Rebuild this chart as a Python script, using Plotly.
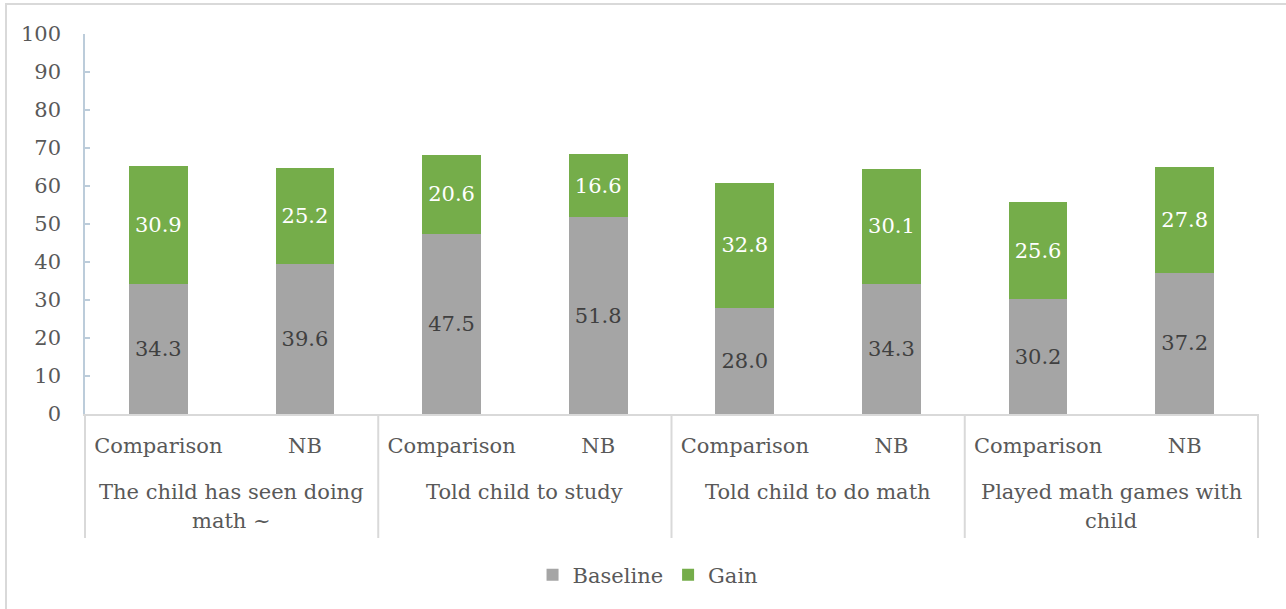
import plotly.graph_objects as go

# Survey items and study arms
groups = [
    "The child has seen doing<br>math ~",
    "Told child to study",
    "Told child to do math",
    "Played math games with<br>child",
]
arms = ["Comparison", "NB"]

# Percent of parents reporting each behaviour
baseline = [34.3, 39.6, 47.5, 51.8, 28.0, 34.3, 30.2, 37.2]
gain = [30.9, 25.2, 20.6, 16.6, 32.8, 30.1, 25.6, 27.8]

y_ticks = list(range(0, 101, 10))

FONT = "DejaVu Serif"
FS = 21
TXT = "#595959"
GRID = "#D9D9D9"

n_arms = len(arms)
n_bars = len(groups) * n_arms
xpos = list(range(n_bars))
tick_text = arms * len(groups)

fig = go.Figure()
fig.add_trace(go.Bar(
    x=xpos, y=baseline, name="Baseline",
    marker=dict(color="#A5A5A5", line=dict(width=0)),
    width=0.4,
    text=[f"{v:.1f}" for v in baseline],
    textposition="inside", insidetextanchor="middle", textangle=0,
    textfont=dict(family=FONT, size=FS, color="#404040"),
))
fig.add_trace(go.Bar(
    x=xpos, y=gain, name="Gain",
    marker=dict(color="#75AD4A", line=dict(width=0)),
    width=0.4,
    text=[f"{v:.1f}" for v in gain],
    textposition="inside", insidetextanchor="middle", textangle=0,
    textfont=dict(family=FONT, size=FS, color="white"),
))

# plot-area geometry (pixels) used to convert positions below the axis
TOP, BOTTOM, LEFT, RIGHT = 34, 414, 85, 1258
H = BOTTOM - TOP
W = RIGHT - LEFT


def py(pix):
    return (BOTTOM - pix) / H


def px(pix):
    return (pix - LEFT) / W


shapes = []
# group dividers beneath the category axis
for g in range(len(groups) + 1):
    xd = g * n_arms / n_bars
    shapes.append(dict(type="line", xref="x domain", yref="paper",
                       x0=xd, x1=xd, y0=0, y1=py(538),
                       line=dict(color=GRID, width=2)))
# outer chart frame
shapes.append(dict(type="rect", xref="paper", yref="paper",
                   x0=px(6), x1=px(1300), y0=py(4), y1=py(640),
                   line=dict(color=GRID, width=2), fillcolor="rgba(0,0,0,0)",
                   layer="below"))

# group labels, one annotation per text line for tight line spacing
annotations = []
LINE_GAP = 29
for g, name in enumerate(groups):
    for k, line in enumerate(name.split("<br>")):
        annotations.append(dict(
            x=g * n_arms + (n_arms - 1) / 2, xref="x",
            y=py(492 + k * LINE_GAP), yref="paper", yanchor="middle",
            text=line, showarrow=False, align="center",
            font=dict(family=FONT, size=FS, color=TXT),
        ))

fig.update_layout(
    width=1286, height=609,
    margin=dict(l=LEFT, r=1286 - RIGHT, t=TOP, b=609 - BOTTOM),
    paper_bgcolor="white", plot_bgcolor="white",
    barmode="stack",
    font=dict(family=FONT, size=FS, color=TXT),
    showlegend=True,
    legend=dict(orientation="h", x=0.48, xanchor="center",
                y=py(575), yanchor="middle",
                font=dict(family=FONT, size=FS, color=TXT),
                traceorder="normal"),
    shapes=shapes,
    annotations=annotations,
    xaxis=dict(
        range=[-0.5, n_bars - 0.5],
        tickmode="array", tickvals=xpos, ticktext=tick_text,
        showgrid=False, zeroline=False,
        showline=True, linecolor=GRID, linewidth=2,
        ticks="", ticklabelstandoff=12,
        tickfont=dict(family=FONT, size=FS, color=TXT),
        fixedrange=True,
    ),
    yaxis=dict(
        range=[0, 100], tickmode="array", tickvals=y_ticks,
        showgrid=False, zeroline=False,
        showline=True, linecolor="#BCCCDA", linewidth=1.5,
        ticks="inside", ticklen=5, tickcolor="#BCCCDA", tickwidth=1.5,
        ticklabelstandoff=18,
        tickfont=dict(family=FONT, size=FS, color=TXT),
        fixedrange=True,
    ),
)

fig.write_html("out.html")
